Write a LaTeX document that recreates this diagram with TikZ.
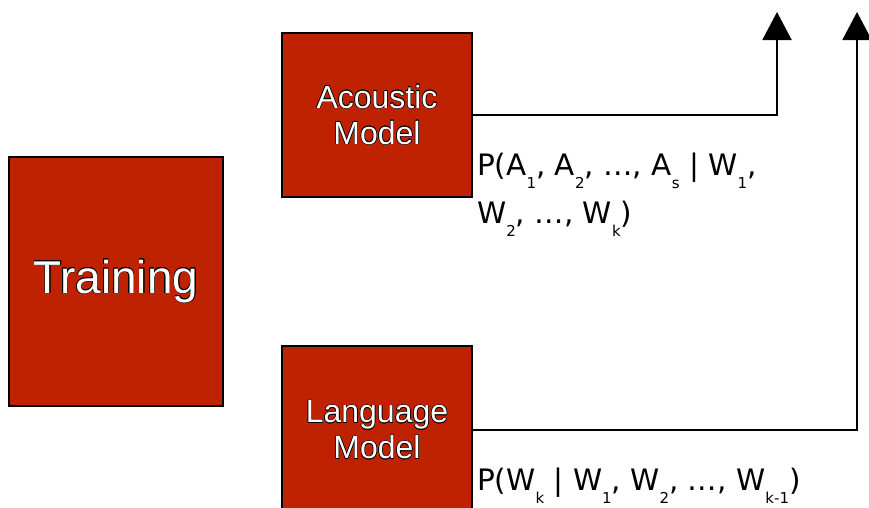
\documentclass[tikz,border=0pt]{standalone}
\usepackage{fontspec}
\setmainfont{Liberation Sans}
\newfontfamily\lblfont{DejaVu Sans}
\usepackage[copies]{contour}
\usetikzlibrary{arrows.meta}
\definecolor{boxred}{RGB}{190,34,0}
\contourlength{0.5pt}
\newcommand\outl[1]{\contour{black}{\textcolor{white}{#1}}}
\newcommand\sbs[1]{\raisebox{-13pt}{\fontsize{15}{15}\selectfont #1}}
\tikzset{
  box/.style={draw=black, line width=1.5pt, fill=boxred, inner sep=0pt, align=center},
  conn/.style={line width=2pt, -{Triangle[width=29pt,length=28pt]}},
  lbl/.style={inner sep=0pt, align=left, anchor=north west, font=\lblfont\fontsize{29.5}{48}\selectfont}
}
\begin{document}
\begin{tikzpicture}[x=1pt,y=-1pt]
\useasboundingbox (0,0) rectangle (869,507);
\clip (0,0) rectangle (869,507);
\node[box, minimum width=214pt, minimum height=249pt, font=\fontsize{46}{50}\selectfont] (tr) at (116,281.5) {\outl{Training}};
\node[box, minimum width=190pt, minimum height=164pt, font=\fontsize{32}{36}\selectfont] (am) at (377,115) {\outl{Acoustic}\\\outl{Model}};
\node[box, minimum width=190pt, minimum height=168pt, font=\fontsize{32}{36}\selectfont] (lm) at (377,430) {\outl{Language}\\\outl{Model}};
\coordinate (t1) at (777,12);
\coordinate (t2) at (857,12);
\draw[conn] (am.east) -| (t1);
\draw[conn] (lm.east) -| (t2);
\node[lbl] (pa) at (477,152.5) {P(A\sbs{1}, A\sbs{2}, …, A\sbs{s} | W\sbs{1},\\W\sbs{2}, …, W\sbs{k})};
\node[lbl] (pl) at (477,467.5) {P(W\sbs{k} | W\sbs{1}, W\sbs{2}, …, W\sbs{k-1})};
\end{tikzpicture}
\end{document}
